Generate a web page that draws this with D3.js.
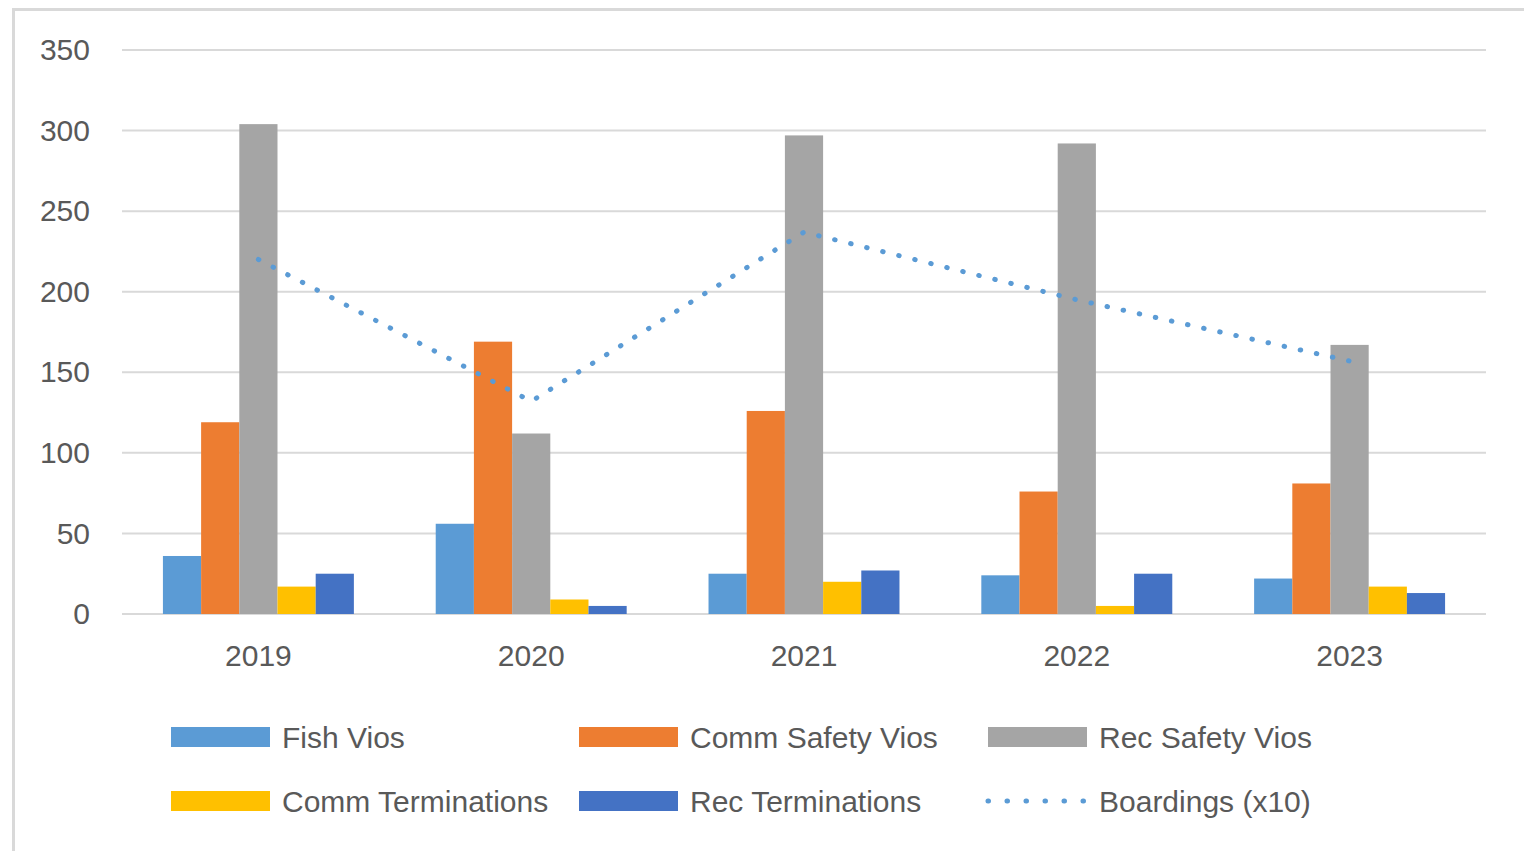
<!DOCTYPE html>
<html>
<head>
<meta charset="utf-8">
<script src="https://cdn.jsdelivr.net/npm/d3@7"></script>
<style>
  body { margin: 0; background: #fff; }
  text { font-family: "Liberation Sans", Arial, sans-serif; fill: #595959; }
</style>
</head>
<body>
<div id="chart"></div>
<script>
// data
var years = ["2019", "2020", "2021", "2022", "2023"];
var seriesNames = ["Fish Vios", "Comm Safety Vios", "Rec Safety Vios", "Comm Terminations", "Rec Terminations"];
var fishVios = [36, 56, 25, 24, 22];
var commSafetyVios = [119, 169, 126, 76, 81];
var recSafetyVios = [304, 112, 297, 292, 167];
var commTerminations = [17, 9, 20, 5, 17];
var recTerminations = [25, 5, 27, 25, 13];
var boardings = [220, 132, 237, 195, 157];
var yTicks = [0, 50, 100, 150, 200, 250, 300, 350];

var colors = ["#5b9bd5", "#ed7d31", "#a5a5a5", "#ffc000", "#4472c4"];
var lineColor = "#5b9bd5";

var width = 1524, height = 851;

var svg = d3.select("#chart").append("svg")
    .attr("width", width)
    .attr("height", height);

// outer chart border (only top and left show in frame)
svg.append("path")
    .attr("d", "M13.5 " + height + " V9.5 H" + width)
    .attr("fill", "none")
    .attr("stroke", "#d9d9d9")
    .attr("stroke-width", 3);

var x0 = d3.scaleBand().domain(years).range([122, 1486]).padding(0);
var groupW = x0.bandwidth() * 0.70;
var x1 = d3.scaleBand().domain(seriesNames).range([0, groupW]).padding(0);
var y = d3.scaleLinear().domain([0, 350]).range([614, 50]);

//gridlines
svg.append("g").selectAll("line")
    .data(yTicks)
    .enter().append("line")
    .attr("x1", 122).attr("x2", 1486)
    .attr("y1", function(d) { return y(d); })
    .attr("y2", function(d) { return y(d); })
    .attr("stroke", "#d9d9d9")
    .attr("stroke-width", 2);

//y axis labels
var yAxis = d3.axisLeft(y).tickValues(yTicks).tickSize(0).tickPadding(0);
var yg = svg.append("g").attr("transform", "translate(90,0)").call(yAxis);
yg.select(".domain").remove();
yg.selectAll("text")
    .attr("font-size", 30)
    .attr("font-family", null)
    .attr("fill", "#595959");

//bars
var seriesData = [fishVios, commSafetyVios, recSafetyVios, commTerminations, recTerminations];
var groups = svg.append("g").selectAll("g")
    .data(years)
    .enter().append("g")
    .attr("transform", function(d) {
        return "translate(" + (x0(d) + (x0.bandwidth() - groupW) / 2) + ",0)";
    });

groups.selectAll("rect")
    .data(function(d, i) {
        return seriesNames.map(function(s, j) { return { name: s, value: seriesData[j][i], k: j }; });
    })
    .enter().append("rect")
    .attr("x", function(d) { return x1(d.name); })
    .attr("width", x1.bandwidth())
    .attr("y", function(d) { return y(d.value); })
    .attr("height", function(d) { return y(0) - y(d.value); })
    .attr("fill", function(d) { return colors[d.k]; });

//x axis labels
var xAxis = d3.axisBottom(x0).tickSize(0).tickPadding(0);
var xg = svg.append("g").attr("transform", "translate(0,645)").call(xAxis);
xg.select(".domain").remove();
xg.selectAll("text")
    .attr("font-size", 30)
    .attr("font-family", null)
    .attr("fill", "#595959");

//boardings dotted line
var line = d3.line()
    .x(function(d, i) { return x0(years[i]) + x0.bandwidth() / 2; })
    .y(function(d) { return y(d); });

svg.append("path")
    .datum(boardings)
    .attr("d", line)
    .attr("fill", "none")
    .attr("stroke", lineColor)
    .attr("stroke-width", 5)
    .attr("stroke-linecap", "round")
    .attr("stroke-dasharray", "0.5 16");

//legend
var legendItems = [
    { name: "Fish Vios", type: "bar", color: colors[0], col: 0, row: 0 },
    { name: "Comm Safety Vios", type: "bar", color: colors[1], col: 1, row: 0 },
    { name: "Rec Safety Vios", type: "bar", color: colors[2], col: 2, row: 0 },
    { name: "Comm Terminations", type: "bar", color: colors[3], col: 0, row: 1 },
    { name: "Rec Terminations", type: "bar", color: colors[4], col: 1, row: 1 },
    { name: "Boardings (x10)", type: "line", color: lineColor, col: 2, row: 1 }
];
var legendX = [171, 579, 988];
var legendY = [737, 801];

var legend = svg.append("g").selectAll("g")
    .data(legendItems)
    .enter().append("g")
    .attr("transform", function(d) { return "translate(" + legendX[d.col] + "," + legendY[d.row] + ")"; });

legend.filter(function(d) { return d.type == "bar"; })
    .append("rect")
    .attr("x", 0).attr("y", -10)
    .attr("width", 99).attr("height", 20)
    .attr("fill", function(d) { return d.color; });

legend.filter(function(d) { return d.type == "line"; })
    .append("path")
    .attr("d", "M0 0 H96")
    .attr("stroke", function(d) { return d.color; })
    .attr("stroke-width", 5)
    .attr("stroke-linecap", "round")
    .attr("stroke-dasharray", "0.5 18.5");

legend.append("text")
    .attr("x", 111)
    .attr("y", 0)
    .attr("dy", "0.35em")
    .attr("font-size", 30)
    .text(function(d) { return d.name; });
</script>
</body>
</html>
